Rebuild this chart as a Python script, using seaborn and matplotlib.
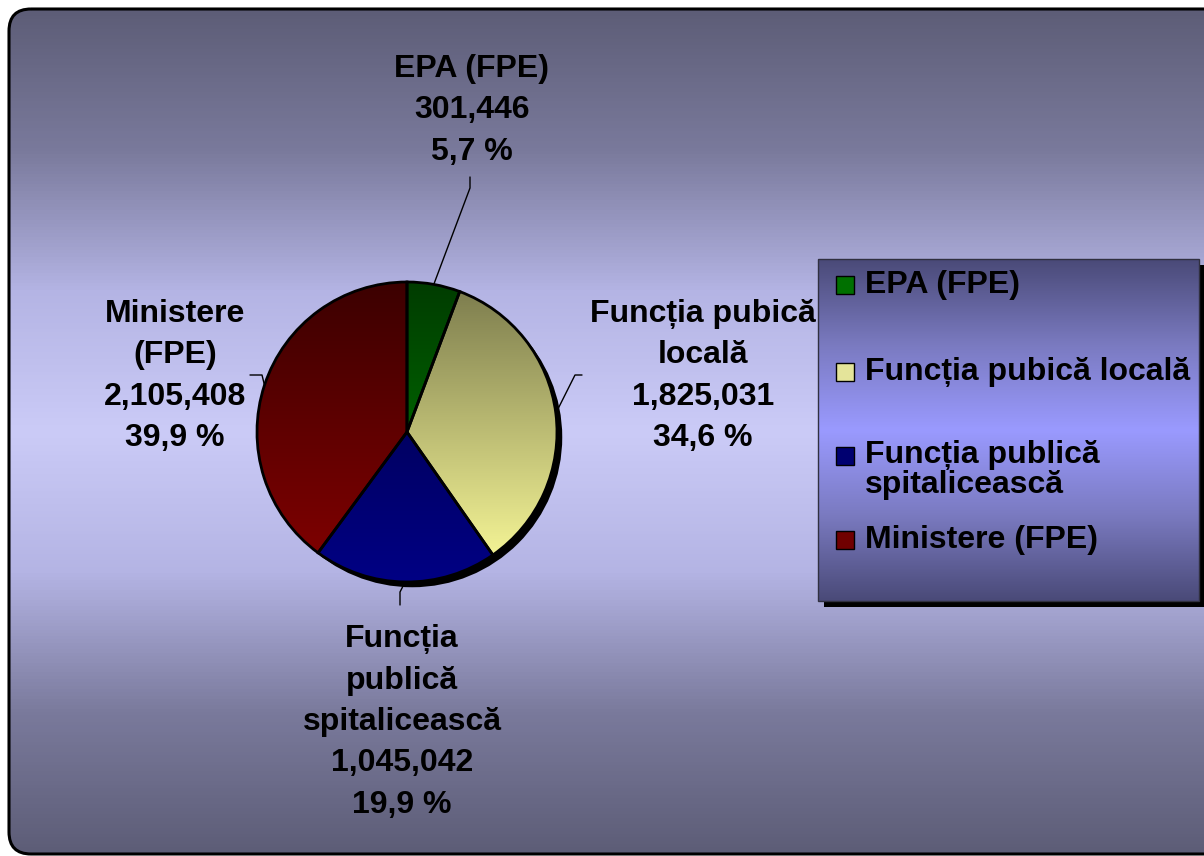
import numpy as np
import seaborn as sns
from matplotlib import pyplot as plt
from matplotlib.patches import FancyBboxPatch, Rectangle, Circle

# date
categorii = ['EPA (FPE)', 'Funcția pubică locală', 'Funcția publică\nspitalicească', 'Ministere (FPE)']
etichete = ['EPA (FPE)', 'Funcția pubică\nlocală', 'Funcția\npublică\nspitalicească', 'Ministere\n(FPE)']
valori = [301446, 1825031, 1045042, 2105408]
procente = ['5,7 %', '34,6 %', '19,9 %', '39,9 %']

# culori (sus intunecat -> jos deschis)
grad_top = ['#003c00', '#7a7a4c', '#000040', '#3c0000']
grad_bot = ['#008400', '#ffff9c', '#000084', '#840000']
leg_col = ['#007000', '#e4e49a', '#000070', '#700000']

sns.set_theme(style='white')
plt.rcParams['font.family'] = ['Liberation Sans', 'DejaVu Sans']

W, H = 1204, 856
FS = 23
fig = plt.figure(figsize=(W / 100, H / 100), dpi=100)
fig.patch.set_facecolor('white')

# axa de fundal in pixeli
bg = fig.add_axes([0, 0, 1, 1])
bg.set_xlim(0, W)
bg.set_ylim(H, 0)
bg.axis('off')

frame = FancyBboxPatch((9, 9), 1230, 845, boxstyle='round,pad=0,rounding_size=22',
                       facecolor='none', edgecolor='black', linewidth=2.2, zorder=2)
bg.add_patch(frame)
cmap_bg = sns.blend_palette(['#5d5d77', '#7a7a9c', '#b4b4e4', '#cbcbf7', '#b4b4e4', '#7a7a9c', '#5d5d77'], as_cmap=True)
grad = np.linspace(0, 1, 256).reshape(-1, 1)
im = bg.imshow(grad, cmap=cmap_bg, extent=(9, 1239, 854, 9), aspect='auto', zorder=1)
im.set_clip_path(frame)

# legenda (cutie cu gradient)
bg.add_patch(Rectangle((824, 265), 381, 342, facecolor='black', edgecolor='none', zorder=3))
leg_box = Rectangle((818, 259), 381, 342, facecolor='none', edgecolor='#303040', linewidth=1, zorder=5)
bg.add_patch(leg_box)
cmap_leg = sns.blend_palette(['#4a4a78', '#7a7ac0', '#9a9aff', '#7a7ac0', '#4a4a78'], as_cmap=True)
im2 = bg.imshow(grad, cmap=cmap_leg, extent=(818, 1199, 601, 259), aspect='auto', zorder=4)
im2.set_clip_path(leg_box)

leg_y = [285, 372, 470, 540]
for cat, col, y in zip(categorii, leg_col, leg_y):
    n = cat.count('\n') + 1
    ytop = y - (n - 1) * 14
    bg.add_patch(Rectangle((836, ytop - 9), 18, 18, facecolor=col, edgecolor='black',
                           linewidth=1, zorder=6))
    bg.text(865, y, cat, fontsize=FS, fontweight='bold', color='black',
            ha='left', va='center', linespacing=0.98, zorder=6)

# pie
cx, cy, r = 407, 432, 150
axp = fig.add_axes([(cx - r) / W, (H - cy - r) / H, 2 * r / W, 2 * r / H])
axp.axis('off')
axp.add_patch(Circle((0.035, -0.035), 1.0, facecolor='black', edgecolor='none',
                     zorder=0, clip_on=False))
wedges, _ = axp.pie(valori, startangle=90, counterclock=False, radius=1,
                    wedgeprops=dict(edgecolor='black', linewidth=2))
axp.set_xlim(-1, 1)
axp.set_ylim(-1, 1)
for w, c1, c2 in zip(wedges, grad_top, grad_bot):
    w.set_facecolor('none')
    w.set_zorder(3)
    w.set_clip_on(False)
    cm = sns.blend_palette([c1, c2], as_cmap=True)
    g = axp.imshow(grad, cmap=cm, extent=(-1, 1, -1, 1), aspect='auto', zorder=2)
    g.set_clip_path(w)

# etichete
lab_pos = [(472, 110), (703, 376), (402, 722), (175, 376)]
leader = [[(470, 177), (470, 188)],
          [(582, 375), (575, 375)],
          [(400, 605), (400, 592)],
          [(250, 375), (262, 375)]]
for w, et, v, p, pos, ld in zip(wedges, etichete, valori, procente, lab_pos, leader):
    ang = np.deg2rad((w.theta1 + w.theta2) / 2)
    ax_pt = (cx + r * np.cos(ang), cy - r * np.sin(ang))
    xs = [q[0] for q in ld] + [ax_pt[0]]
    ys = [q[1] for q in ld] + [ax_pt[1]]
    bg.plot(xs, ys, color='black', linewidth=1, zorder=6)
    bg.text(pos[0], pos[1], f'{et}\n{v:,}\n{p}', fontsize=FS, fontweight='bold',
            color='black', ha='center', va='center', linespacing=1.5, zorder=6)

fig.savefig('out.png', dpi=100)
